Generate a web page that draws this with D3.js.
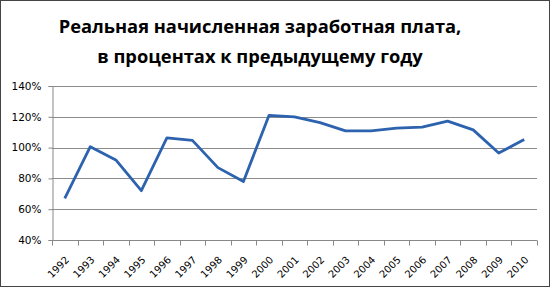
<!DOCTYPE html>
<html><head><meta charset="utf-8">
<script src="https://cdn.jsdelivr.net/npm/d3@7/dist/d3.min.js"></script>
<style>body{margin:0;background:#fff;}svg{display:block;}</style>
</head><body>
<script>
const years = ["1992","1993","1994","1995","1996","1997","1998","1999","2000","2001","2002","2003","2004","2005","2006","2007","2008","2009","2010"];
const values = [67, 100.6, 92, 72, 106.3, 104.7, 87, 78, 120.9, 119.9, 116.2, 110.9, 110.8, 112.6, 113.3, 117.2, 111.5, 96.5, 105.2];
const yTicks = [40, 60, 80, 100, 120, 140];
const titleLines = ["Реальная начисленная заработная плата,", "в процентах к предыдущему году"];

const W = 553, H = 290;
const svg = d3.select("body").append("svg").attr("width", W).attr("height", H);
svg.append("rect").attr("x",0.5).attr("y",0.5).attr("width",549).attr("height",286)
  .attr("fill","#fff").attr("stroke","#444").attr("stroke-width",1);

const x0 = 52, x1 = 537, yTop = 86, yBot = 240;
const x = d3.scaleBand().domain(years).range([x0, x1]).padding(0);
const y = d3.scaleLinear().domain([40, 140]).range([yBot, yTop]);

// gridlines
svg.append("g").selectAll("line").data(yTicks.filter(d => d > 40)).join("line")
  .attr("x1", x0).attr("x2", x1)
  .attr("y1", d => Math.round(y(d)) + 0.5).attr("y2", d => Math.round(y(d)) + 0.5)
  .attr("stroke", "#8c8c8c").attr("stroke-width", 1);

// y axis
const ya = svg.append("g").attr("transform", `translate(${x0 + 0.5},0)`)
  .call(d3.axisLeft(y).tickValues(yTicks).tickSize(4).tickPadding(7).tickFormat(d => d + "%"));
ya.select(".domain").attr("stroke", "#888");
ya.selectAll(".tick line").attr("stroke", "#888");
ya.selectAll("text").attr("font-family", "'DejaVu Sans', sans-serif").attr("font-size", 10.5).attr("fill", "#000");

// x axis
const xa = svg.append("g").attr("transform", `translate(0,${Math.round(yBot) + 0.5})`);
xa.append("line").attr("x1", x0).attr("x2", x1).attr("stroke", "#888");
const bounds = years.map(d => x(d)).concat([x1]);
xa.selectAll("line.tk").data(bounds).join("line").attr("class","tk")
  .attr("x1", d => Math.round(d) + 0.5).attr("x2", d => Math.round(d) + 0.5)
  .attr("y1", 0).attr("y2", 5).attr("stroke", "#888");
xa.selectAll("text").data(years).join("text")
  .attr("transform", d => `translate(${x(d) + x.bandwidth()/2},${15}) rotate(-45)`)
  .attr("text-anchor", "end").attr("dy", "0.7em")
  .attr("font-family", "'DejaVu Sans', sans-serif").attr("font-size", 10).attr("fill", "#000")
  .text(d => d);

// line
const line = d3.line().x((d, i) => x(years[i]) + x.bandwidth()/2).y(d => y(d));
svg.append("path").datum(values).attr("d", line)
  .attr("fill", "none").attr("stroke", "#2c62ae").attr("stroke-width", 2.8)
  .attr("stroke-linejoin", "round");

// title
svg.append("g").selectAll("text").data(titleLines).join("text")
  .attr("x", 260).attr("y", (d, i) => 33 + i * 30)
  .attr("text-anchor", "middle")
  .attr("font-family", "'Open Sans', sans-serif").attr("font-weight", "bold")
  .attr("font-size", 18.3).attr("fill", "#000")
  .text(d => d);
</script>
</body></html>
